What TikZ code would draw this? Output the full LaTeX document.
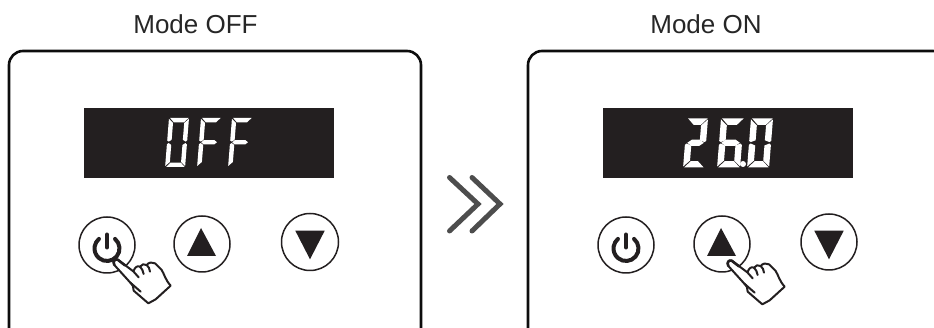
\documentclass[tikz,border=0pt]{standalone}
\usepackage{fontspec}
\setmainfont{Liberation Sans}
\definecolor{ink}{HTML}{231F20}
\definecolor{chev}{HTML}{4D4D4D}
\tikzset{
  panel/.style={draw=black!95,line width=2.6pt,rounded corners=14pt},
  lcd/.style={fill=ink,draw=none},
  btn/.style={draw=ink,line width=1.5pt,fill=white},
  tri/.style={fill=ink,draw=none},
  pwr/.style={draw=ink,line width=4pt,line cap=round},
  handline/.style={draw=ink,line width=2pt,line join=round,line cap=round},
  chevron/.style={draw=chev,line width=5pt,line cap=round,line join=miter},
  title/.style={font=\fontsize{26}{30}\selectfont,text=black!85,inner sep=0pt,anchor=center},
  seg/.style={fill=white,draw=none}
}
% segments: \W width, \T thickness; origin = top-left of digit, height 49
\newcommand\sA{\fill[seg] (1.2,0) -- ({\W-0.4},0) -- ({\W-\T-0.3},\T) -- ({\T+0.8},\T) -- cycle;}
\newcommand\sB{\fill[seg] (\W,0.9) -- (\W,22.4) -- ({\W-1.6},23.6) -- ({\W-\T},21.8) -- ({\W-\T},{\T+0.6}) -- cycle;}
\newcommand\sC{\fill[seg] (\W,26.4) -- (\W,48) -- ({\W-\T},{49-\T-0.6}) -- ({\W-\T},27) -- ({\W-1.6},25) -- cycle;}
\newcommand\sD{\fill[seg] (1,49) -- ({\T+0.8},{49-\T}) -- ({\W-\T-0.3},{49-\T}) -- ({\W-0.4},49) -- cycle;}
\newcommand\sE{\fill[seg] (0,26.4) -- (1.6,25) -- (\T,27) -- (\T,{49-\T-0.6}) -- (0,48) -- cycle;}
\newcommand\sF{\fill[seg] (0,0.9) -- (\T,{\T+0.6}) -- (\T,21.8) -- (1.6,23.6) -- (0,22.4) -- cycle;}
\newcommand\sG{\fill[seg] (2.2,24.3) -- ({\T+0.3},{24.3-\T/2}) -- ({\W-\T-0.3},{24.3-\T/2}) -- ({\W-2.2},24.3) -- ({\W-\T-0.3},{24.3+\T/2}) -- ({\T+0.3},{24.3+\T/2}) -- cycle;}
% hand: coordinates in thirds of a pixel
\newcommand\handat[2]{%
  \begin{scope}[shift={(#1,#2)},x=0.3333pt,y=-0.3333pt]
    \path[handline,fill=white]
      (38,29) -- (85,64) .. controls (90,52) and (96,46) .. (105,50)
      .. controls (110,43) and (118,40) .. (125,45)
      .. controls (132,36) and (142,36) .. (150,40)
      -- (170,60) .. controls (178,72) and (180,88) .. (197,107)
      -- (152,148) -- (130,160) -- (86,122) .. controls (86,112) and (84,106) .. (76,98)
      -- (28,45) .. controls (22,34) and (30,26) .. (38,29) -- cycle;
    \draw[handline,line width=2.6pt] (28,45) .. controls (22,34) and (30,26) .. (38,29) -- (60,46);
    \draw[handline] (85,64) -- (101,82);
    \draw[handline] (105,50) .. controls (110,56) and (115,62) .. (116,72);
    \draw[handline] (125,45) .. controls (131,50) and (134,56) .. (135,65);
    \draw[handline] (76,98) -- (107,125);
  \end{scope}}
\newcommand\pwricon[2]{%
  \draw[pwr] ({#1+8.03},{#2-9.58}) arc[start angle=-50,end angle=230,radius=12.5];
  \draw[pwr] (#1,{#2-14}) -- (#1,{#2-1});}
\begin{document}
\begin{tikzpicture}[x=1pt,y=-1pt]
\useasboundingbox (0,0) rectangle (934,328);
\begin{scope}
\clip (0,0) rectangle (934,328);
% panels
\draw[panel] (9,335) -- (9,51) -- (421,51) -- (421,335);
\draw[panel] (528,335) -- (528,51) -- (947,51) -- (947,335);
% titles
\node[title] (t1) at (195.5,24) {Mode OFF};
\node[title] (t2) at (706,24) {Mode ON};
% displays
\fill[lcd] (84,108) rectangle (334,178);
\fill[lcd] (603,108) rectangle (853,178);
% OFF
\def\W{20}\def\T{4.4}
\begin{scope}[shift={(169,118)},xslant=0.08] \sA\sB\sC\sD\sE\sF \end{scope}
\begin{scope}[shift={(201,118)},xslant=0.08] \sA\sE\sF\sG \end{scope}
\begin{scope}[shift={(232,118)},xslant=0.08] \sA\sE\sF\sG \end{scope}
% 26.0
\def\W{21}\def\T{6.4}
\begin{scope}[shift={(687,118.5)},xslant=0.08] \sA\sB\sG\sE\sD \end{scope}
\def\W{23}
\begin{scope}[shift={(721,118.5)},xslant=0.08] \sA\sF\sG\sE\sC\sD \end{scope}
\def\W{22}
\begin{scope}[shift={(751,118.5)},xslant=0.08] \sA\sB\sC\sD\sE\sF \end{scope}
\fill[white] (743,164) circle (3);
% left buttons
\draw[btn] (107,245) circle (28);
\draw[btn] (202,244) circle (28);
\draw[btn] (310,242) circle (28.5);
\pwricon{107}{248.5}
\fill[tri] (201,228) -- (216,256) -- (187,256) -- cycle;
\fill[tri] (295.3,230.7) -- (324.7,230.7) -- (310,259.3) -- cycle;
% right buttons
\draw[btn] (626,245) circle (28);
\draw[btn] (722,244) circle (28);
\draw[btn] (829,242) circle (28);
\pwricon{626}{248.5}
\fill[tri] (721,228) -- (736,256) -- (707,256) -- cycle;
\fill[tri] (814.3,230.7) -- (843.7,230.7) -- (829,259.3) -- cycle;
% hands
\handat{105}{250}
\handat{719}{251}
% chevrons
\draw[chevron] (449.5,177.5) -- (478,204) -- (449.5,231);
\draw[chevron] (472,177.5) -- (500,204) -- (472,231);
\end{scope}
\end{tikzpicture}
\end{document}
